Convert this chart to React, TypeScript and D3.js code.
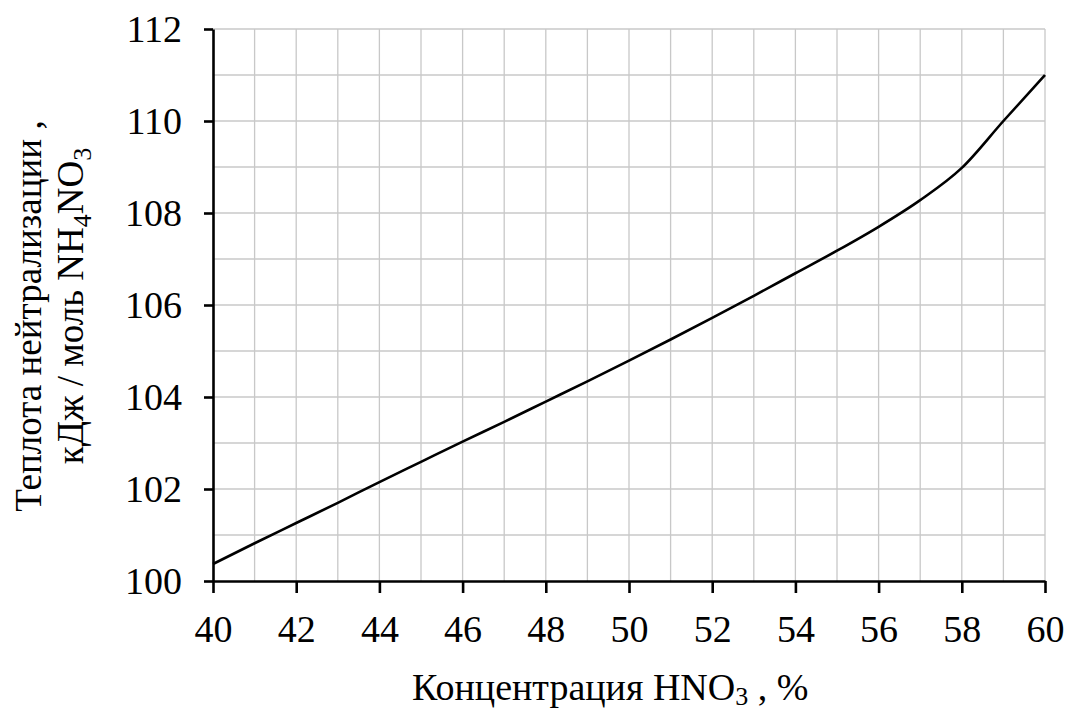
import React, { useEffect, useRef } from 'react';
import * as d3 from 'd3';

// концентрация HNO3, % и теплота нейтрализации, кДж/моль NH4NO3
const concentration = [40, 41, 42, 43, 44, 45, 46, 47, 48, 49, 50, 51, 52, 53, 54, 55, 56, 57, 58, 59, 60];
const heat = [100.37, 100.82, 101.26, 101.7, 102.15, 102.59, 103.03, 103.46, 103.9, 104.34, 104.79,
  105.25, 105.72, 106.2, 106.69, 107.18, 107.7, 108.28, 108.98, 110.0, 111.0];
const xTicks = [40, 42, 44, 46, 48, 50, 52, 54, 56, 58, 60];
const yTicks = [100, 102, 104, 106, 108, 110, 112];

export default function App() {
  const ref = useRef<SVGSVGElement>(null);
  const width = 1067;
  const height = 715;
  const margin = { Top: 29, Right: 22, Bottom: 134, Left: 213 };
  const font = '"Liberation Serif", "Times New Roman", serif';

  useEffect(() => {
    const svg = d3.select(ref.current);
    svg.selectAll('*').remove();

    const xScale = d3.scaleLinear()
      .domain([40, 60])
      .range([margin.Left, width - margin.Right]);
    const yScale = d3.scaleLinear()
      .domain([100, 112])
      .range([height - margin.Bottom, margin.Top]);

    // ---------- grid ----------
    const grid = svg.append('g').attr('stroke', '#c8c8c8').attr('stroke-width', 1.3);
    grid.selectAll('line.v')
      .data(d3.range(41, 61, 1))
      .join('line')
      .attr('x1', d => xScale(d)).attr('x2', d => xScale(d))
      .attr('y1', yScale(100)).attr('y2', yScale(112));
    grid.selectAll('line.h')
      .data(d3.range(101, 113, 1))
      .join('line')
      .attr('x1', xScale(40)).attr('x2', xScale(60))
      .attr('y1', d => yScale(d)).attr('y2', d => yScale(d));

    // ---------- axes ----------
    const xAxis = d3.axisBottom(xScale).tickValues(xTicks).tickSize(12).tickSizeOuter(0).tickPadding(22)
      .tickFormat(d => String(d));
    const yAxis = d3.axisLeft(yScale).tickValues(yTicks).tickSize(9).tickSizeOuter(0).tickPadding(22)
      .tickFormat(d => String(d));

    const gx = svg.append('g')
      .attr('transform', `translate(0,${height - margin.Bottom})`)
      .call(xAxis);
    const gy = svg.append('g')
      .attr('transform', `translate(${margin.Left},0)`)
      .call(yAxis);

    [gx, gy].forEach(g => {
      g.attr('font-family', font).attr('font-size', 38);
      g.select('.domain').attr('stroke', '#000').attr('stroke-width', 2.6);
      g.selectAll('.tick line').attr('stroke', '#000').attr('stroke-width', 2.6);
      g.selectAll('.tick text')
        .attr('fill', '#000')
        .style('font-family', font)
        .style('font-size', '38px');
    });
    gx.selectAll('.tick text').attr('dy', '0.71em');
    gy.selectAll('.tick text').attr('dy', '0.34em');

    // ---------- line ----------
    svg.append('path')
      .datum(concentration)
      .attr('fill', 'none')
      .attr('stroke', '#000')
      .attr('stroke-width', 2.6)
      .attr('stroke-linejoin', 'round')
      .attr('d', d3.line<number>()
        .x(d => xScale(d))
        .y((d, i) => yScale(heat[i]))
        .curve(d3.curveMonotoneX)
      );

    // ---------- axis titles ----------
    const xTitle = svg.append('text')
      .attr('x', 412)
      .attr('y', 700)
      .attr('fill', '#000')
      .style('font-family', font)
      .style('font-size', '38px');
    xTitle.append('tspan').text('Концентрация HNO');
    xTitle.append('tspan').text('3').attr('dy', 5).style('font-size', '26px');
    xTitle.append('tspan').text(' , %').attr('dy', -5);

    const yTitle = svg.append('g')
      .attr('transform', 'rotate(-90)')
      .style('font-family', font)
      .style('font-size', '37px')
      .attr('fill', '#000')
      .attr('text-anchor', 'middle');
    yTitle.append('text')
      .attr('x', -316)
      .attr('y', 41)
      .text('Теплота нейтрализации ,');
    const line2 = yTitle.append('text')
      .attr('x', -306)
      .attr('y', 83);
    line2.append('tspan').text('кДж / моль NH');
    line2.append('tspan').text('4').attr('dy', 8).style('font-size', '26px');
    line2.append('tspan').text('NO').attr('dy', -8);
    line2.append('tspan').text('3').attr('dy', 8).style('font-size', '26px');
  }, []);

  return (
    <svg ref={ref} width={width} height={height}
      style={{ position: 'absolute', left: 0, top: 0, background: '#fff' }} />
  );
}
